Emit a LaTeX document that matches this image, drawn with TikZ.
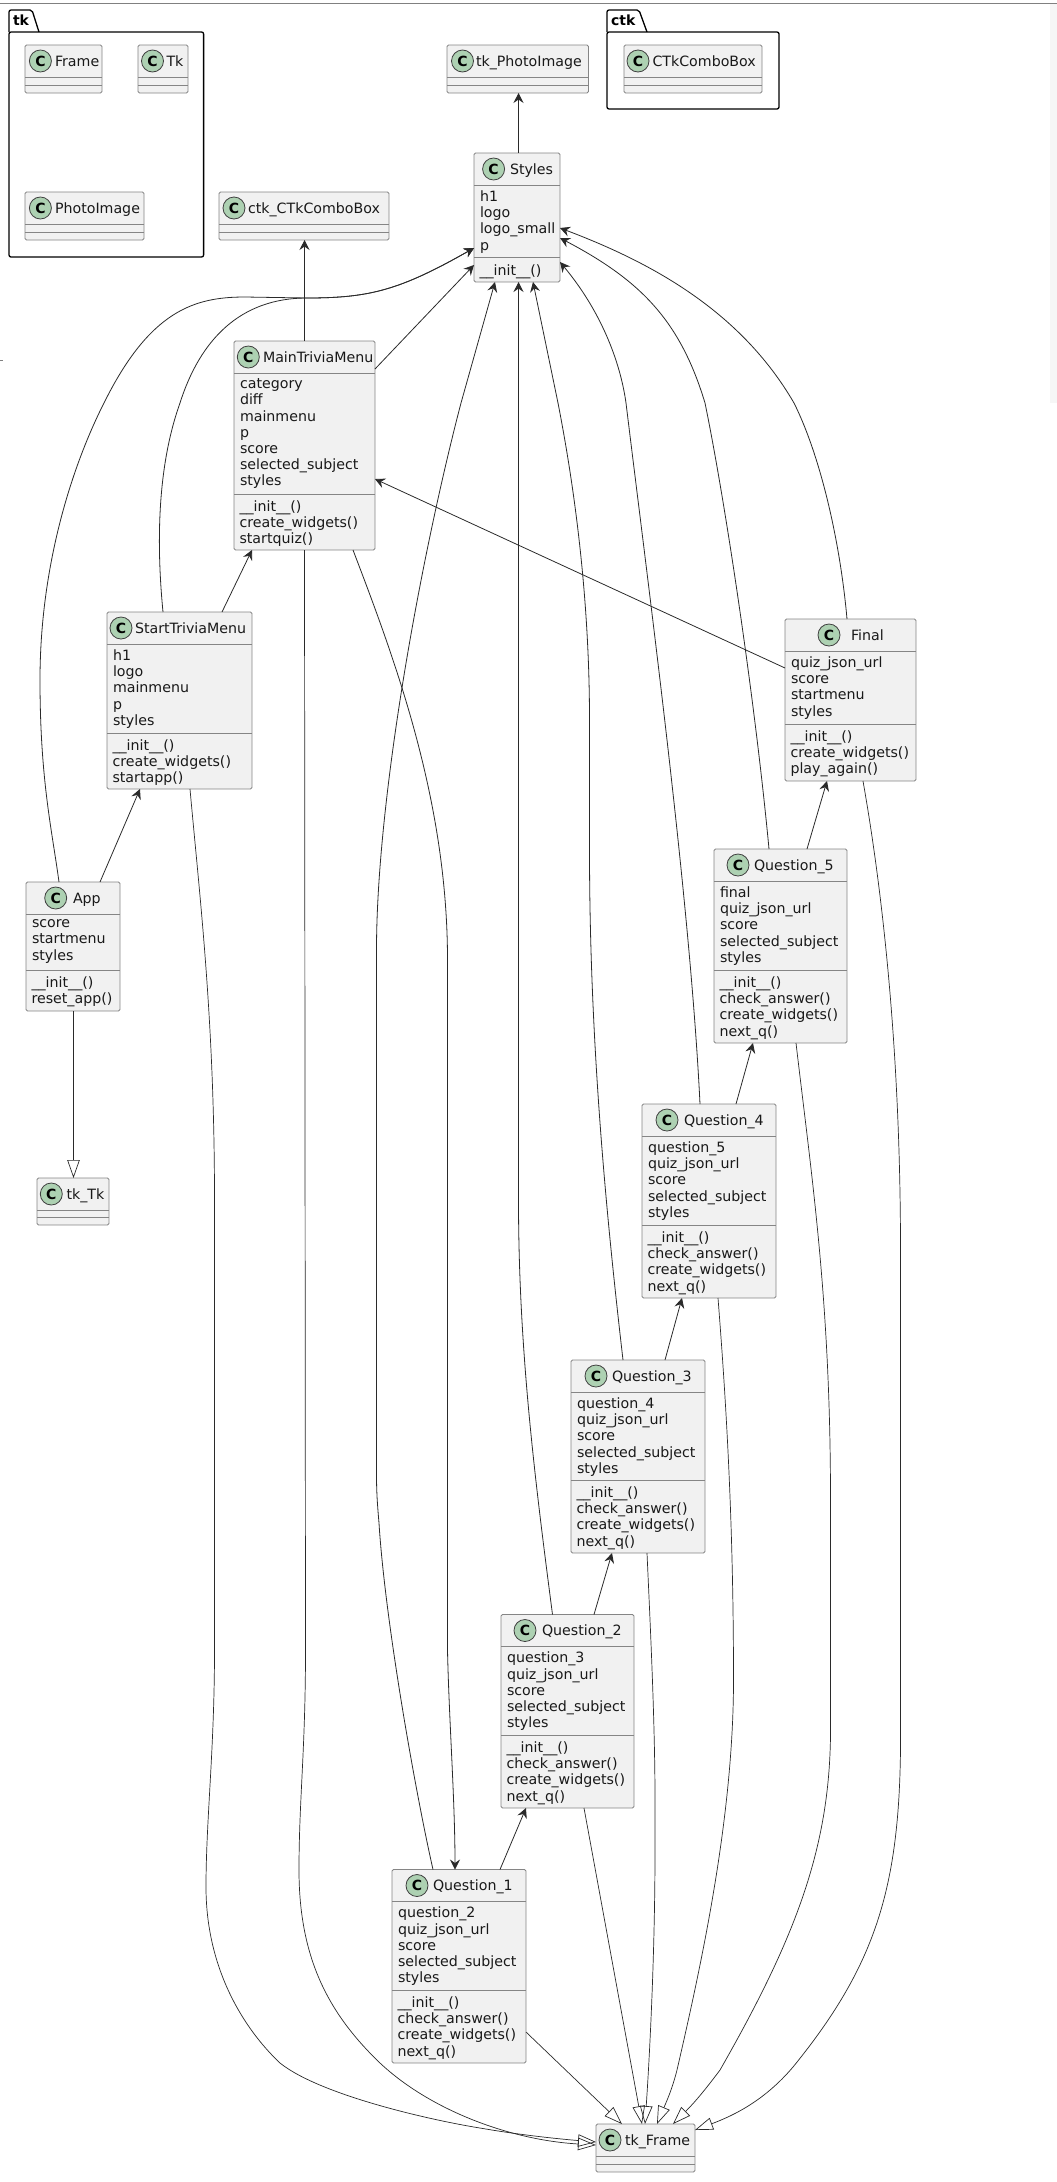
\documentclass[tikz,border=0pt]{standalone}
\usepackage{fontspec}
\setmainfont{DejaVu Sans}
\usetikzlibrary{arrows.meta,positioning}
\definecolor{boxfill}{HTML}{F1F1F1}
\definecolor{boxline}{HTML}{858585}
\definecolor{edgeline}{HTML}{2A2A2A}
\definecolor{markfill}{HTML}{ADD1B2}
\definecolor{stripfill}{HTML}{F6F6F6}
\tikzset{
    classrect/.style={rectangle, draw=boxline, fill=boxfill, line width=.9pt, rounded corners=1.5pt, inner sep=0pt, outer sep=0pt, anchor=north west},
    classsep/.style={draw=boxline, line width=.9pt},
    classmark/.style={circle, draw=black!75, fill=markfill, line width=.8pt, inner sep=0pt, minimum size=22pt, font=\fontsize{14}{16}\selectfont\bfseries},
    classname/.style={inner sep=0pt, outer sep=0pt, anchor=base west, font=\fontsize{14.2}{16.2}\selectfont, text=black!90},
    classtext/.style={inner sep=0pt, outer sep=0pt, anchor=north west, align=left, font=\fontsize{14.2}{16.2}\selectfont, text=black!90, execute at begin node=\strut},
    pkgrect/.style={rectangle, draw=black, fill=white, line width=1.3pt, rounded corners=2pt, inner sep=0pt, outer sep=0pt, anchor=north west},
    pkgtab/.style={draw=black, line width=1.3pt, rounded corners=2pt},
    pkgname/.style={inner sep=0pt, outer sep=0pt, anchor=base west, font=\fontsize{14}{16}\selectfont\bfseries},
    uses/.style={draw=edgeline, line width=.8pt, -{Stealth[length=10pt,width=10pt,inset=3.5pt]}},
    extends/.style={draw=edgeline, line width=.7pt, -{Triangle[open,length=18pt,width=12.5pt]}}
}
% name, left, top, right, bottom, second rule, mark x, title x, title
\newcommand{\classbox}[9]{
    \node[classrect, minimum width={(#4-#2)*1pt}, minimum height={(#5-#3)*1pt}] (#1) at (#2,#3) {};
    \draw[classsep] (#2,#3+32) -- (#4,#3+32);
    \draw[classsep] (#2,#6) -- (#4,#6);
    \coordinate (#1-s) at (#2,#6);
    \node[classmark] (#1-c) at (#7,#3+16) {C};
    \node[classname] (#1-t) at (#8,#3+21) {#9};
}
\newcommand{\classattrs}[2]{\node[classtext] (#1-a) at ([shift={(6pt,-37.66pt)}]#1.north west) {#2};}
\newcommand{\classmethods}[2]{\node[classtext] (#1-m) at ([shift={(5.5pt,-6.66pt)}]#1-s) {#2};}
\newcommand{\initm}{\_\_init\_\_()}

\begin{document}
\begin{tikzpicture}[x=1pt,y=-1pt]
	\useasboundingbox (0,0) rectangle (1057,2182);
	\fill[stripfill] (1050,3) rectangle (1057,403);
	\draw[gray, line width=.9pt] (0,3) -- (1057,3);
	\draw[gray, line width=.9pt] (0,360) -- (3,360);

	% packages
	\draw[pkgtab] (9,32) -- (9,10) -- (32,10) -- (39,32);
	\node[pkgrect, minimum width=194.6pt, minimum height=225pt] (tkpkg) at (9,32) {};
	\node[pkgname] (tkpkg-t) at (13,25) {tk};
	\draw[pkgtab] (607,32) -- (607,10) -- (639,10) -- (647,32);
	\node[pkgrect, minimum width=172pt, minimum height=77pt] (ctkpkg) at (607,32) {};
	\node[pkgname] (ctkpkg-t) at (611,25) {ctk};

	% classes without members
	\classbox{Frame}{25}{45}{102}{93}{85}{40.4}{55}{Frame}
	\classbox{Tk}{138}{45}{188}{93}{85}{152.5}{166.5}{Tk}
	\classbox{PhotoImage}{25}{192}{144}{240}{232}{40.4}{55}{PhotoImage}
	\classbox{ctkCombo}{219}{192}{389}{240}{232}{234}{248}{ctk\_CTkComboBox}
	\classbox{tkPhoto}{447}{45}{588.5}{93}{85}{462.5}{476}{tk\_PhotoImage}
	\classbox{CTkCombo}{624}{45}{762}{93}{85}{638}{652.5}{CTkComboBox}
	\classbox{tkTk}{37}{1178}{109}{1225}{1217}{51.3}{66.5}{tk\_Tk}
	\classbox{tkFrame}{596}{2124}{695}{2172}{2164}{610}{625}{tk\_Frame}

	% classes with members
	\classbox{Styles}{474}{153}{560}{282}{257}{493.6}{510}{Styles}
	\classattrs{Styles}{h1\\logo\\logo\_small\\p}
	\classmethods{Styles}{\initm}

	\classbox{MainTriviaMenu}{234}{341}{375}{550}{494}{248.3}{263}{MainTriviaMenu}
	\classattrs{MainTriviaMenu}{category\\diff\\mainmenu\\p\\score\\selected\_subject\\styles}
	\classmethods{MainTriviaMenu}{\initm\\create\_widgets()\\startquiz()}

	\classbox{StartTriviaMenu}{107}{612}{252}{789}{733}{121}{135}{StartTriviaMenu}
	\classattrs{StartTriviaMenu}{h1\\logo\\mainmenu\\p\\styles}
	\classmethods{StartTriviaMenu}{\initm\\create\_widgets()\\startapp()}

	\classbox{App}{26}{882}{120}{1011}{970}{55.7}{73}{App}
	\classattrs{App}{score\\startmenu\\styles}
	\classmethods{App}{\initm\\reset\_app()}

	\classbox{Final}{785}{619}{916}{781}{724}{829}{851}{Final}
	\classattrs{Final}{quiz\_json\_url\\score\\startmenu\\styles}
	\classmethods{Final}{\initm\\create\_widgets()\\play\_again()}

	\classbox{Qfive}{714}{849}{847}{1043}{970}{738}{754}{Question\_5}
	\classattrs{Qfive}{final\\quiz\_json\_url\\score\\selected\_subject\\styles}
	\classmethods{Qfive}{\initm\\check\_answer()\\create\_widgets()\\next\_q()}

	\classbox{Qfour}{642}{1104}{776}{1298}{1225}{667}{684}{Question\_4}
	\classattrs{Qfour}{question\_5\\quiz\_json\_url\\score\\selected\_subject\\styles}
	\classmethods{Qfour}{\initm\\check\_answer()\\create\_widgets()\\next\_q()}

	\classbox{Qthree}{571}{1360}{705}{1553}{1480}{596}{612}{Question\_3}
	\classattrs{Qthree}{question\_4\\quiz\_json\_url\\score\\selected\_subject\\styles}
	\classmethods{Qthree}{\initm\\check\_answer()\\create\_widgets()\\next\_q()}

	\classbox{Qtwo}{501}{1614.5}{634}{1808}{1735}{525}{542}{Question\_2}
	\classattrs{Qtwo}{question\_3\\quiz\_json\_url\\score\\selected\_subject\\styles}
	\classmethods{Qtwo}{\initm\\check\_answer()\\create\_widgets()\\next\_q()}

	\classbox{Qone}{392}{1869.5}{526}{2063}{1990}{417}{433}{Question\_1}
	\classattrs{Qone}{question\_2\\quiz\_json\_url\\score\\selected\_subject\\styles}
	\classmethods{Qone}{\initm\\check\_answer()\\create\_widgets()\\next\_q()}

	% associations
	\draw[uses] ([xshift=44.5pt]Styles.north west) -- ([xshift=71.5pt]tkPhoto.south west);
	\draw[uses] ([xshift=70.5pt]MainTriviaMenu.north west) -- ([xshift=85.5pt]ctkCombo.south west);
	\draw[uses] ([yshift=-28pt]MainTriviaMenu.north east) -- ([yshift=-112pt]Styles.north west);
	\draw[uses] ([xshift=33pt]App.north west) .. controls (52,830) and (40,780) .. (40,680)
		.. controls (40,560) and (75,460) .. (104,403)
		.. controls (150,310) and (195,297) .. (245,297)
		-- (307,298)
		.. controls (370,298) and (400,290) .. ([yshift=-95pt]Styles.north west);
	\draw[uses] ([xshift=56pt]StartTriviaMenu.north west) .. controls (157,550) and (156,470) .. (180,403)
		.. controls (200,340) and (240,298) .. (307,298)
		.. controls (370,298) and (400,290) .. ([yshift=-95pt]Styles.north west);
	\draw[uses] ([xshift=115pt]StartTriviaMenu.north west) -- ([xshift=18pt]MainTriviaMenu.south west);
	\draw[uses] ([xshift=74pt]App.north west) -- ([xshift=33pt]StartTriviaMenu.south west);
	\draw[uses] ([xshift=119pt]MainTriviaMenu.south west) .. controls (395,660) and (447.5,800) .. (447.5,960)
		-- (447.5,1650) .. controls (449,1720) and (455,1800) .. ([xshift=63pt]Qone.north west);
	\draw[uses] ([yshift=-49pt]Final.north west) -- ([yshift=-138pt]MainTriviaMenu.north east);
	\draw[uses] ([xshift=62pt]Final.north west) .. controls (840,540) and (820,455) .. (794,403)
		.. controls (740,310) and (650,262) .. ([yshift=-75pt]Styles.north east);
	\draw[uses] ([xshift=55pt]Qfive.north west) .. controls (755,700) and (725,500) .. (705,403)
		.. controls (680,320) and (640,280) .. ([yshift=-85pt]Styles.north east);
	\draw[uses] ([xshift=58pt]Qfour.north west) .. controls (690,900) and (650,600) .. (626,403)
		.. controls (620,360) and (600,310) .. ([yshift=-109pt]Styles.north east);
	\draw[uses] ([xshift=52pt]Qthree.north west) .. controls (608,1230) and (589.5,1050) .. (589.5,850)
		-- (589.5,720) .. controls (589.5,600) and (575,490) .. (558,403) -- ([xshift=59pt]Styles.south west);
	\draw[uses] ([xshift=51.5pt]Qtwo.north west) .. controls (535,1480) and (518.5,1350) .. (518.5,1200)
		-- ([xshift=44.5pt]Styles.south west);
	\draw[uses] ([xshift=41pt]Qone.north west) .. controls (415,1790) and (385,1620) .. (379,1523)
		.. controls (377,1500) and (376.5,1490) .. (376.5,1473) -- (376.5,950)
		.. controls (376.5,800) and (420,560) .. (461,403) -- ([xshift=21pt]Styles.south west);
	\draw[uses] ([xshift=108pt]Qone.north west) -- ([xshift=25pt]Qtwo.south west);
	\draw[uses] ([xshift=93pt]Qtwo.north west) -- ([xshift=41pt]Qthree.south west);
	\draw[uses] ([xshift=94pt]Qthree.north west) -- ([xshift=40pt]Qfour.south west);
	\draw[uses] ([xshift=94pt]Qfour.north west) -- ([xshift=39pt]Qfive.south west);
	\draw[uses] ([xshift=93pt]Qfive.north west) -- ([xshift=42pt]Final.south west);

	% inheritance
	\draw[extends] ([xshift=47.5pt]App.south west) -- ([xshift=36.5pt]tkTk.north west);
	\draw[extends] ([xshift=83pt]StartTriviaMenu.south west) .. controls (200,900) and (214.5,1020) .. (214.5,1200)
		-- (214.5,1650) .. controls (214.5,1750) and (206,1820) .. (206,1887)
		.. controls (206,1970) and (245,2030) .. (280,2063)
		.. controls (320,2095) and (430,2120) .. (480,2128)
		.. controls (520,2135) and (560,2139) .. ([yshift=-18pt]tkFrame.north west);
	\draw[extends] ([xshift=70.5pt]MainTriviaMenu.south west) -- (305.5,1650) .. controls (305.5,1750) and (299,1800) .. (299,1870)
		.. controls (299,1960) and (330,2015) .. (380,2063)
		.. controls (430,2110) and (510,2140) .. ([yshift=-21pt]tkFrame.north west);
	\draw[extends] ([yshift=31pt]Qone.south east) -- ([xshift=26pt]tkFrame.north west);
	\draw[extends] ([xshift=83pt]Qtwo.south west) -- ([xshift=46pt]tkFrame.north west);
	\draw[extends] ([xshift=76pt]Qthree.south west) .. controls (650,1620) and (655,1720) .. (655,1800)
		-- (655,1850) .. controls (655,1950) and (650,2050) .. ([xshift=49pt]tkFrame.north west);
	\draw[extends] ([xshift=76pt]Qfour.south west) .. controls (726,1400) and (733.5,1520) .. (733.5,1680)
		.. controls (733.5,1820) and (700,1970) .. (677,2070)
		.. controls (672,2090) and (665,2105) .. ([xshift=61pt]tkFrame.north west);
	\draw[extends] ([xshift=82pt]Qfive.south west) .. controls (812,1180) and (830.5,1300) .. (830.5,1500)
		-- (830.5,1720) .. controls (832,1840) and (800,1930) .. (720,2070)
		.. controls (705,2090) and (695,2102) .. ([xshift=77pt]tkFrame.north west);
	\draw[extends] ([xshift=78pt]Final.south west) .. controls (884,900) and (900.5,1060) .. (900.5,1250)
		-- (900.5,1720) .. controls (902,1880) and (880,1960) .. (793,2067)
		.. controls (765,2100) and (735,2115) .. ([yshift=-6pt]tkFrame.north east);
\end{tikzpicture}
\end{document}
